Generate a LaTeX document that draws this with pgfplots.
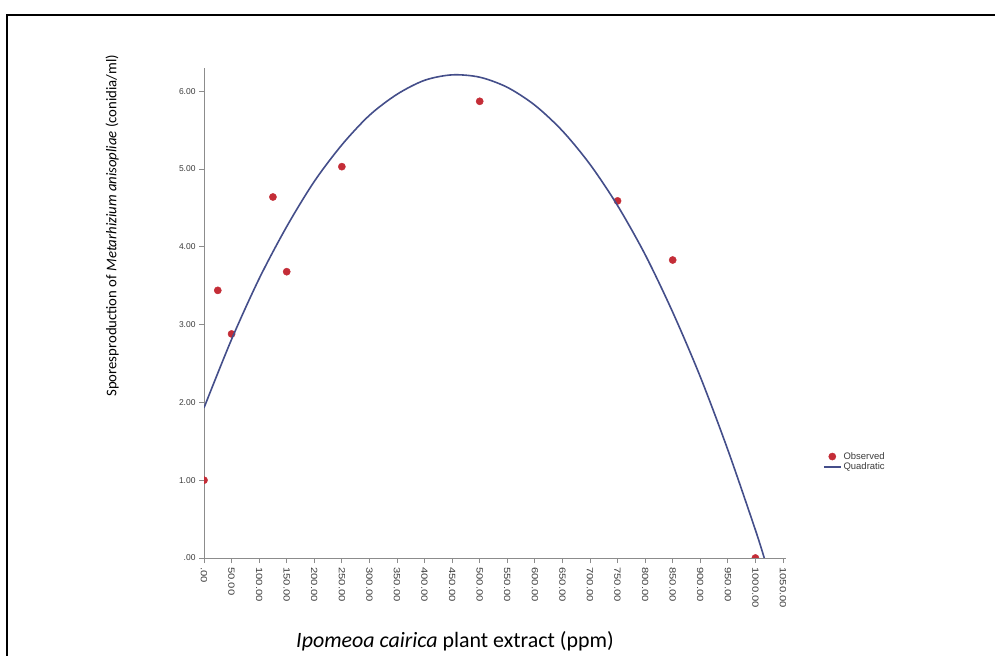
\documentclass[border=0pt]{standalone}
\usepackage{pgfplots}
\pgfplotsset{compat=1.18}
\usepackage{fontspec}
\setmainfont{Liberation Sans}
\newfontfamily\calibri{Carlito}

\definecolor{obsred}{RGB}{196,45,55}
\definecolor{fitblue}{RGB}{68,78,138}
\definecolor{axgray}{RGB}{140,140,140}
\definecolor{lblgray}{RGB}{60,60,60}

\pgfplotstableread{
x y
0 1.00
25 3.44
50 2.88
125 4.64
150 3.68
250 5.03
500 5.87
750 4.59
850 3.83
1000 0.00
}\observed

\pgfplotstableread{
x y
0 1.93
50 2.81
100 3.59
150 4.26
200 4.84
250 5.31
300 5.69
350 5.96
400 6.14
450 6.21
500 6.18
550 6.05
600 5.82
650 5.49
700 5.06
750 4.53
800 3.90
850 3.16
900 2.33
950 1.39
1000 0.36
1016 0.00
}\quadfit

\begin{document}
\begin{tikzpicture}
\useasboundingbox (0,0) rectangle (995bp,656bp);
\fill[white] (0,0) rectangle (995bp,656bp);
\draw[line width=2bp] (7bp,0) -- (7bp,641bp) -- (995bp,641bp);

\begin{axis}[
    at={(204bp,98bp)}, anchor=origin,
    x=0.5514bp, y=77.8bp,
    xmin=0, xmax=1055, ymin=0, ymax=6.3,
    axis x line=bottom, axis y line=left,
    axis line style={-, draw=axgray, line width=0.8bp},
    tick style={draw=axgray, line width=0.8bp},
    tick align=outside,
    major tick length=5bp,
    xtick={0,50,...,1050},
    xticklabels={.00,50.00,100.00,150.00,200.00,250.00,300.00,350.00,400.00,450.00,500.00,550.00,600.00,650.00,700.00,750.00,800.00,850.00,900.00,950.00,1000.00,1050.00},
    x tick label style={rotate=-90, xscale=1.25, anchor=west, font=\fontsize{9}{10}\selectfont, text=lblgray},
    ytick={0,1,...,6},
    yticklabels={.00,1.00,2.00,3.00,4.00,5.00,6.00},
    y tick label style={font=\fontsize{8.5}{10}\selectfont, text=lblgray},
    xlabel={\calibri\fontsize{22}{26}\selectfont\textit{Ipomeoa cairica} plant extract (ppm)},
    xlabel style={at={(axis description cs:0.4315,-0.169)}, anchor=center},
    ylabel={\calibri\fontsize{14.8}{17}\selectfont Sporesproduction of \textit{Metarhizium anisopliae} (conidia/ml)},
    ylabel style={at={(axis description cs:-0.158,0.678)}, anchor=center},
    clip marker paths=true,
    legend style={at={(axis description cs:1.062,0.222)}, anchor=north west,
        draw=none, fill=none, font=\fontsize{9.5}{10}\selectfont, text=lblgray,
        row sep=-2pt, inner sep=1pt},
    legend cell align=left,
]
\addplot[only marks, mark=*, mark size=3.6bp, mark options={fill=obsred, draw=obsred}]
    table[x=x, y=y] {\observed};
\addlegendentry{Observed}
\addplot[fitblue, line width=1.6bp, smooth] table[x=x, y=y] {\quadfit};
\addlegendentry{Quadratic}
\end{axis}
\end{tikzpicture}
\end{document}
